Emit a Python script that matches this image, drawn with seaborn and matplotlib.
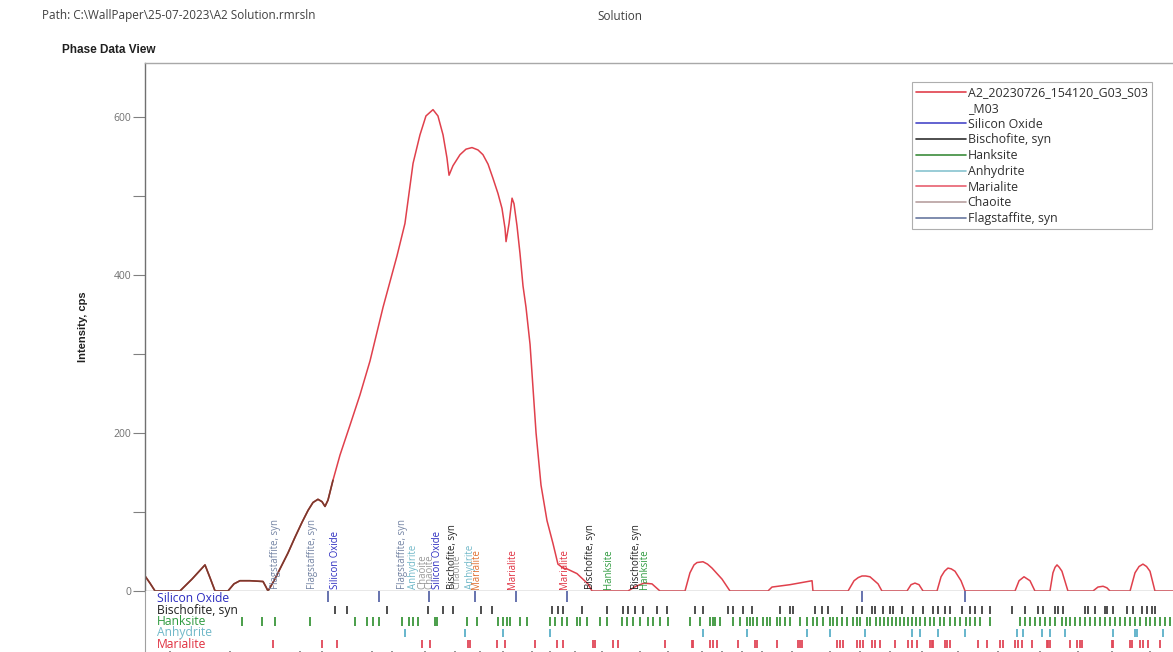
import matplotlib
matplotlib.use("Agg")
import matplotlib.pyplot as plt
import matplotlib.transforms as mtransforms
from matplotlib.lines import Line2D
import pandas as pd
import seaborn as sns

# ---- measured pattern (2-theta, cps) ----
two_theta = [4.00, 4.33, 4.67, 6.33, 7.13, 8.00, 8.33, 8.67, 9.53, 9.93, 10.33, 11.00,
             11.87, 12.07, 12.20, 12.60, 13.00, 13.53, 14.00, 14.47, 14.87, 15.20, 15.53,
             15.80, 16.00, 16.20, 16.53, 17.00, 17.67, 18.33, 19.00, 19.87, 20.80, 21.33,
             21.87, 22.33, 22.73, 23.20, 23.53, 23.87, 24.13, 24.27, 24.53, 25.00, 25.40,
             25.80, 26.20, 26.53, 26.87, 27.20, 27.53, 27.80, 28.00, 28.07, 28.27, 28.47,
             28.60, 28.80, 29.00, 29.20, 29.40, 29.67, 30.07, 30.40, 30.80, 31.20, 31.53,
             31.87, 32.13, 32.80, 33.53, 33.80, 36.20, 36.73, 37.27, 37.80, 38.33, 40.00,
             40.33, 40.60, 40.80, 41.20, 41.50, 41.80, 42.47, 43.00, 45.53, 45.80, 47.00,
             48.47, 48.53, 50.87, 51.27, 51.55, 51.80, 52.05, 52.33, 52.87, 53.13, 54.80,
             55.07, 55.33, 55.60, 55.87, 56.80, 57.07, 57.30, 57.53, 57.75, 58.00, 58.40,
             58.67, 62.00, 62.27, 62.60, 63.00, 63.33, 64.33, 64.53, 64.67, 64.80, 64.95,
             65.13, 65.53, 67.20, 67.53, 67.87, 68.13, 68.33, 69.67, 70.00, 70.27, 70.53,
             70.77, 71.00, 71.33, 73.20]
intensity = [19, 10, 0, 0, 15, 33, 17, 0, 0, 9, 13, 13,
             12, 5, 0, 13, 28, 48, 68, 87, 102, 112, 116,
             113, 107, 115, 140, 172, 210, 248, 291, 359, 424, 465,
             541, 577, 601, 609, 601, 577, 548, 526, 538, 552, 559,
             561, 558, 552, 540, 522, 503, 484, 459, 442, 465, 497,
             490, 462, 427, 386, 359, 312, 200, 134, 89, 60, 34,
             29, 28, 22, 9, 0, 0, 6, 10, 9, 0, 0,
             23, 33, 36, 37, 34, 29, 15, 0, 0, 5, 8,
             13, 0, 0, 13, 17, 19, 19, 18, 9, 0, 0,
             8, 10, 8, 0, 0, 18, 25, 29, 28, 25, 13,
             0, 0, 13, 18, 13, 0, 0, 23, 30, 33, 30,
             25, 0, 0, 5, 6, 4, 0, 0, 23, 31, 34,
             31, 25, 0, 0]

# ---- reference line positions per phase (2-theta) ----
silicon_oxide_lines = [16.20, 19.60, 22.93, 26.00, 28.73, 32.13, 51.80, 58.67]
bischofite_lines = [16.67, 17.47, 20.13, 22.87, 23.87, 24.53, 26.40, 27.13, 31.13, 31.53,
                    31.87, 33.13, 34.80, 35.87, 36.20, 36.67, 37.20, 38.13, 38.80, 40.67,
                    41.20, 42.87, 43.20, 43.87, 44.47, 46.33, 47.00, 47.20, 48.67, 49.13,
                    49.53, 50.47, 51.47, 51.80, 52.47, 52.67, 53.20, 53.67, 53.87, 54.47,
                    55.20, 55.87, 56.53, 56.87, 57.33, 57.67, 58.47, 59.00, 59.33, 59.80,
                    60.33, 61.80, 62.67, 63.53, 63.87, 64.67, 64.87, 65.20, 66.67, 66.87,
                    67.33, 68.00, 68.13, 68.53, 69.47, 69.87, 70.47, 70.80, 71.13, 71.33]
hanksite_lines = [10.47, 11.80, 12.67, 15.00, 18.00, 18.80, 19.20, 19.60, 21.13, 21.60,
                  21.87, 22.20, 23.33, 23.47, 25.47, 26.13, 27.53, 27.87, 28.13, 28.33,
                  29.00, 29.47, 31.00, 31.33, 31.80, 32.13, 32.80, 33.00, 33.47, 34.33,
                  34.80, 35.80, 36.13, 36.53, 37.00, 37.53, 37.87, 38.33, 38.87, 40.33,
                  41.00, 41.67, 41.87, 42.00, 42.33, 43.20, 43.67, 44.13, 44.33, 44.53,
                  44.80, 45.20, 45.47, 45.67, 46.13, 46.33, 46.67, 47.00, 47.67, 48.13,
                  48.53, 48.80, 49.20, 49.67, 49.87, 50.13, 50.47, 50.80, 51.20, 51.47,
                  51.67, 52.13, 52.33, 52.73, 53.00, 53.27, 53.53, 53.80, 54.07, 54.33,
                  54.60, 54.87, 55.13, 55.40, 55.67, 56.00, 56.33, 56.60, 57.00, 57.27,
                  57.67, 58.00, 58.33, 58.73, 59.00, 59.33, 59.67, 60.33, 62.33, 62.67,
                  63.00, 63.33, 63.67, 64.00, 64.33, 64.67, 65.13, 65.40, 65.67, 66.00,
                  66.33, 66.67, 67.00, 67.33, 67.67, 68.00, 68.33, 68.67, 69.00, 69.33,
                  69.67, 70.00, 70.33, 70.73, 71.00, 71.33, 71.67, 72.00, 72.33]
anhydrite_lines = [21.33, 25.33, 27.87, 31.00, 41.20, 44.13, 48.13, 49.67, 52.00, 55.13,
                   55.67, 56.87, 58.67, 62.13, 62.53, 63.80, 64.33, 65.33, 68.53, 70.00,
                   70.13, 71.87]
marialite_lines = [12.53, 15.80, 16.80, 22.47, 23.00, 25.53, 25.67, 27.47, 28.00, 30.00,
                   31.47, 31.87, 33.87, 34.00, 35.20, 35.53, 38.67, 40.47, 40.53, 41.67,
                   41.87, 42.13, 43.53, 44.67, 44.80, 46.13, 47.53, 47.67, 47.80, 50.13,
                   50.33, 50.53, 51.47, 51.67, 51.87, 52.47, 52.67, 53.00, 54.00, 54.87,
                   55.13, 55.47, 56.33, 56.47, 56.53, 57.33, 57.47, 57.67, 59.53, 60.13,
                   61.00, 61.20, 62.00, 62.20, 62.47, 63.13, 64.13, 64.20, 64.33, 65.67,
                   66.13, 66.33, 66.47, 68.47, 68.53, 69.67, 69.80, 70.33, 70.53, 70.87,
                   71.67]
chaoite_lines = [5.67, 9.67, 14.33, 15.80, 19.13, 20.47, 22.67, 24.67, 26.33, 27.87, 29.80,
                 31.00, 32.67, 34.47, 37.00, 38.87, 41.13, 42.47, 43.80, 45.13, 47.13,
                 49.67, 51.67, 53.67, 55.80, 58.20, 60.87, 63.67, 66.20, 68.47, 71.00]

# ---- peak annotations above the baseline ----
peak_label_pos = [12.67, 15.20, 16.73, 21.20, 21.87, 22.53, 23.00, 23.47, 24.47, 24.80,
                  25.73, 26.13, 28.53, 32.00, 33.67, 34.87, 36.80, 37.27]
peak_label_text = ["Flagstaffite, syn", "Flagstaffite, syn", "Silicon Oxide",
                   "Flagstaffite, syn", "Anhydrite", "Chaoite", "Chaoite", "Silicon Oxide",
                   "Bischofite, syn", "Chaoite", "Anhydrite", "Marialite", "Marialite",
                   "Marialite", "Bischofite, syn", "Hanksite", "Bischofite, syn", "Hanksite"]

phase_names = ["Silicon Oxide", "Bischofite, syn", "Hanksite", "Anhydrite",
               "Marialite", "Chaoite", "Flagstaffite, syn"]

curve_color = "#e0404c"
legend_colors = {"Silicon Oxide": "#4848c8", "Bischofite, syn": "#303030",
                 "Hanksite": "#3c8c3c", "Anhydrite": "#88c4d0", "Marialite": "#e86070",
                 "Chaoite": "#b8a0a0", "Flagstaffite, syn": "#6878a0"}
text_colors = {"Silicon Oxide": "#2c2cc0", "Bischofite, syn": "#202020",
               "Hanksite": "#2e9a3e", "Anhydrite": "#70b8c8", "Marialite": "#e03040",
               "Chaoite": "#9a9a9a", "Flagstaffite, syn": "#7484a4"}
tick_colors = {"Bischofite, syn": "#404040", "Hanksite": "#3c963c",
               "Anhydrite": "#5ab0c8", "Marialite": "#e04858", "Chaoite": "#888888"}

sns.set_theme(style="white")
plt.rcParams["font.family"] = ["Open Sans", "DejaVu Sans"]

W_PX, H_PX = 1173, 652
fig = plt.figure(figsize=(W_PX / 100, H_PX / 100), dpi=100)

left = 145 / W_PX
width = (1183 - 145) / W_PX
zero_y = 591
main_bottom = 1 - zero_y / H_PX
main_h = (zero_y - 63) / H_PX

ax = fig.add_axes([left, main_bottom, width, main_h])
sx = fig.add_axes([left, 0, width, main_bottom])

# ---- main pattern ----
spec = pd.DataFrame({"two_theta": two_theta, "intensity": intensity})
sns.lineplot(data=spec, x="two_theta", y="intensity", ax=ax, color=curve_color,
             lw=1.1, sort=False, estimator=None)
low = spec[spec["two_theta"] <= 16.6]
sns.lineplot(data=low, x="two_theta", y="intensity", ax=ax, color="#7a3a2c",
             lw=1.2, sort=False, estimator=None)

ax.set_xlim(4, 73.2)
ax.set_ylim(0, 668)
ax.set_xticks([])
ax.set_yticks([0, 200, 400, 600])
ax.set_yticks([100, 300, 500], minor=True)
ax.tick_params(axis="y", which="both", direction="out", length=8.5, width=0.8,
               color="#808080", labelsize=7.5, labelcolor="#707070", pad=1.5, left=True)
ax.set_xlabel("")
ax.set_ylabel("Intensity, cps", fontsize=8, fontweight="bold",
              family=["Liberation Sans", "DejaVu Sans"], color="#202020", labelpad=18)
ax.spines["left"].set_color("#707070")
ax.spines["top"].set_color("#a8a8a8")
ax.spines["bottom"].set_color("#8c8c8c")
ax.spines["right"].set_visible(False)
for sp in ax.spines.values():
    sp.set_linewidth(1.0)

for pos, txt in zip(peak_label_pos, peak_label_text):
    col = text_colors[txt]
    if txt == "Marialite" and 26.0 < pos < 26.3:
        col = "#e07030"
    ax.text(pos, 3, txt, rotation=90, ha="center", va="bottom", fontsize=6.9, color=col)

# ---- phase reference strip ----
rows = {name: i for i, name in enumerate(phase_names[:6])}
sticks = pd.concat([
    pd.DataFrame({"two_theta": bischofite_lines, "phase": "Bischofite, syn"}),
    pd.DataFrame({"two_theta": hanksite_lines, "phase": "Hanksite"}),
    pd.DataFrame({"two_theta": anhydrite_lines, "phase": "Anhydrite"}),
    pd.DataFrame({"two_theta": marialite_lines, "phase": "Marialite"}),
    pd.DataFrame({"two_theta": chaoite_lines, "phase": "Chaoite"}),
], ignore_index=True)
sticks["row"] = sticks["phase"].map(rows)
sns.scatterplot(data=sticks, x="two_theta", y="row", hue="phase", palette=tick_colors,
                marker="|", s=36, linewidth=1.3, ax=sx, legend=False)
sx.vlines(silicon_oxide_lines, -0.7, 0.3, color="#5a68a8", lw=1.3)

sx.set_xlim(4, 73.2)
sx.set_ylim(4.70, -0.70)
sx.set_xticks([])
sx.set_yticks([])
sx.set_xlabel("")
sx.set_ylabel("")
for side in ["top", "right", "bottom"]:
    sx.spines[side].set_visible(False)
sx.spines["left"].set_color("#a0a0a0")
sx.spines["left"].set_linewidth(0.8)

row_tf = mtransforms.blended_transform_factory(sx.transAxes, sx.transData)
for name, r in rows.items():
    if r > 4:
        continue
    sx.text(12 / (1183 - 145), r, name, transform=row_tf, ha="left", va="center",
            fontsize=8.7, color=text_colors[name], clip_on=True)

# ---- legend ----
handles = [Line2D([], [], color=curve_color, lw=1.2),
           Line2D([], [], color="none", lw=0)]
labels = ["A2_20230726_154120_G03_S03", "_M03"]
for name in phase_names:
    handles.append(Line2D([], [], color=legend_colors[name], lw=1.2))
    labels.append(name)
leg = fig.legend(handles, labels, loc="upper left",
                 bbox_to_anchor=(912 / W_PX, 1 - 82 / H_PX), fontsize=8.9,
                 handlelength=4.0, handletextpad=0.15, labelspacing=0.22,
                 borderpad=0.35, borderaxespad=0, frameon=True, fancybox=False)
leg.get_frame().set_edgecolor("#9a9a9a")
leg.get_frame().set_linewidth(0.8)
for t in leg.get_texts():
    t.set_color("#303030")

# ---- page header ----
fig.text(42 / W_PX, 1 - 16 / H_PX, "Path: C:\\WallPaper\\25-07-2023\\A2 Solution.rmrsln",
         fontsize=8.5, color="#404040", va="center", ha="left")
fig.text(597 / W_PX, 1 - 16 / H_PX, "Solution", fontsize=8.5, color="#404040",
         va="center", ha="left")
fig.text(62 / W_PX, 1 - 50 / H_PX, "Phase Data View", fontsize=8.5, fontweight="bold",
         family=["Liberation Sans", "DejaVu Sans"], color="#202020", va="center", ha="left")

fig.savefig("out.png", dpi=100)
